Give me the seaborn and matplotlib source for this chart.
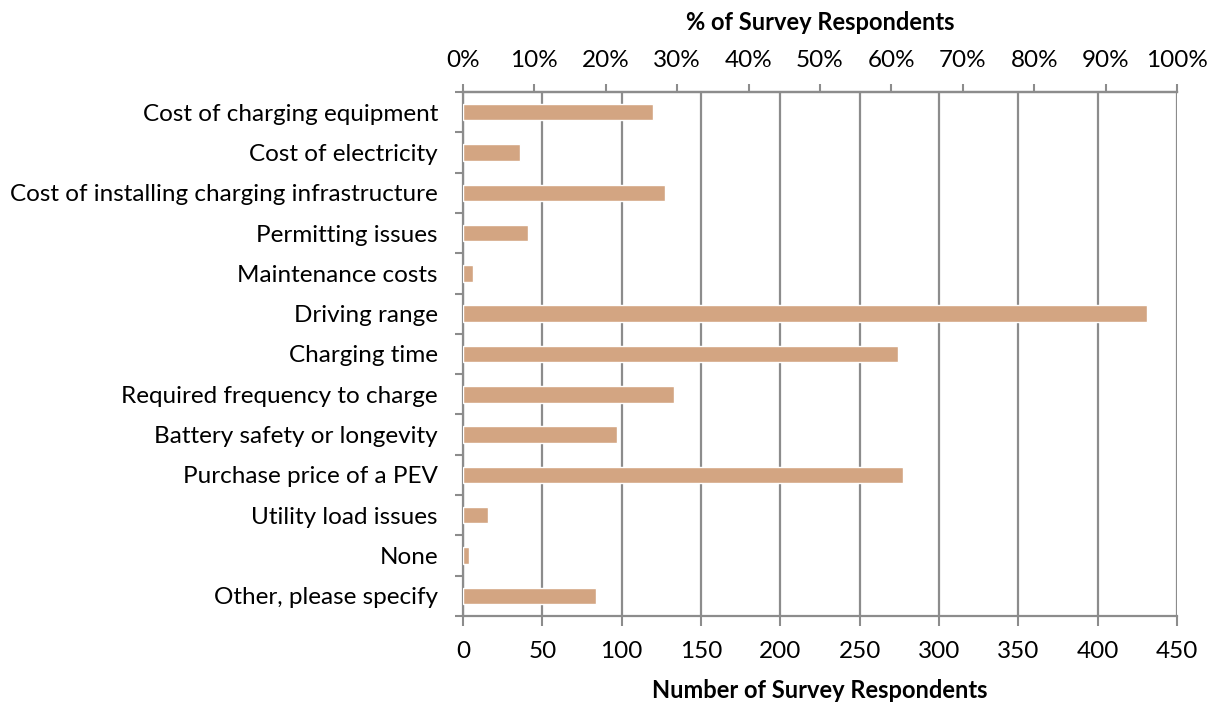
import matplotlib
matplotlib.use("Agg")
import matplotlib.pyplot as plt
import seaborn as sns
import pandas as pd
import numpy as np

categories = [
    "Cost of charging equipment",
    "Cost of electricity",
    "Cost of installing charging infrastructure",
    "Permitting issues",
    "Maintenance costs",
    "Driving range",
    "Charging time",
    "Required frequency to charge",
    "Battery safety or longevity",
    "Purchase price of a PEV",
    "Utility load issues",
    "None",
    "Other, please specify",
]
counts = [120, 36, 127, 41, 6, 431, 274, 133, 97, 277, 16, 4, 84]
count_ticks = [0, 50, 100, 150, 200, 250, 300, 350, 400, 450]
pct_ticks = [0.0, 0.1, 0.2, 0.3, 0.4, 0.5, 0.6, 0.7, 0.8, 0.9, 1.0]

sns.set_theme(style="white")
plt.rcParams["font.family"] = ["Lato", "DejaVu Sans"]
plt.rcParams["text.color"] = "black"
plt.rcParams["axes.labelcolor"] = "black"
plt.rcParams["xtick.labelcolor"] = "black"
plt.rcParams["ytick.labelcolor"] = "black"

df = pd.DataFrame({"category": categories, "count": counts})

fig = plt.figure(figsize=(12.14, 7.05), dpi=100)
ax = fig.add_axes([463 / 1214, 1 - 616 / 705, (1177 - 463) / 1214, (616 - 92) / 705])

grid_c = "#8c8c8c"
fs = 17.5
sns.barplot(data=df, x="count", y="category", orient="h", color="#D3A582",
            saturation=1, width=0.41, ax=ax, zorder=3)

ax.set_xlim(0, 450)
ax.set_ylim(len(categories) - 0.5, -0.5)
ax.set_xticks(count_ticks)
ax.set_xticklabels([str(t) for t in count_ticks], fontsize=fs)
ax.xaxis.grid(True, color=grid_c, linewidth=1.6, zorder=0)
ax.yaxis.grid(False)
ax.set_axisbelow(True)

# y ticks: labels at centers, tick marks at boundaries
ax.set_yticks(range(len(categories)))
ax.set_yticklabels(categories, fontsize=fs)
ax.set_yticks(np.arange(-0.5, len(categories) + 0.5, 1), minor=True)
ax.tick_params(axis="y", which="major", length=0, pad=18, labelcolor="black")
ax.tick_params(axis="y", which="minor", length=6, width=1.5, color=grid_c, left=True)
ax.tick_params(axis="x", which="major", length=7, width=1.5, color=grid_c, bottom=True,
               pad=11, labelcolor="black")

ax.set_xlabel("Number of Survey Respondents", fontsize=17, fontweight="bold",
              labelpad=12, color="black")
ax.set_ylabel("")

for s in ["left", "bottom", "top"]:
    ax.spines[s].set_color(grid_c)
    ax.spines[s].set_linewidth(1.6)
ax.spines["right"].set_visible(False)

ax2 = ax.twiny()
ax2.set_xlim(0, 1)
ax2.set_xticks(pct_ticks)
ax2.set_xticklabels([f"{int(round(t * 100))}%" for t in pct_ticks], fontsize=fs)
ax2.tick_params(axis="x", length=6, width=1.5, color=grid_c, top=True, pad=9,
                labelcolor="black")
ax2.set_xlabel("% of Survey Respondents", fontsize=17, fontweight="bold",
               labelpad=14.5, color="black")
for s in ["left", "bottom", "right"]:
    ax2.spines[s].set_visible(False)
ax2.spines["top"].set_color(grid_c)
ax2.spines["top"].set_linewidth(1.6)

fig.savefig("out.png", dpi=100, facecolor="white")
